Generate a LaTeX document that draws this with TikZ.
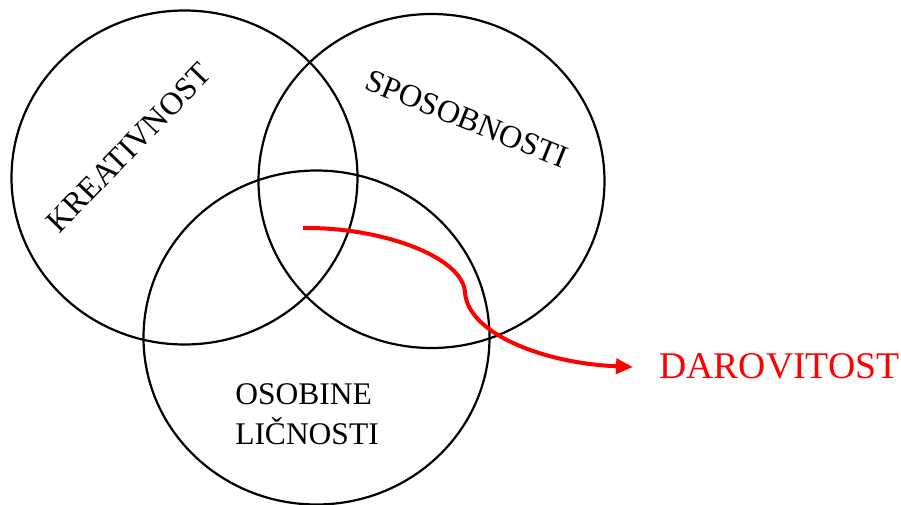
\documentclass[tikz,border=0pt]{standalone}
\usepackage{fontspec}
\setmainfont{Liberation Serif}
\usetikzlibrary{shapes.geometric,arrows.meta}
\begin{document}
\begin{tikzpicture}[x=1pt,y=-1pt,
  ring/.style={ellipse,draw=black,line width=2.2pt,minimum width=346pt,minimum height=334pt,inner sep=0pt},
  lbl/.style={font=\fontsize{32}{40}\selectfont,inner sep=0pt},
  flow/.style={draw=red,line width=4pt,-{Triangle[length=17pt,width=15pt]}}]
\useasboundingbox (0,0) rectangle (901,505);
\node[ring] (c1) at (184.5,177.5) {};
\node[ring] (c2) at (431.5,181) {};
\node[ring] (c3) at (316.5,337.5) {};
\node[lbl,rotate=46] (kr) at (129,148) {KREATIVNOST};
\node[lbl,rotate=-22] (sp) at (467,119) {SPOSOBNOSTI};
\node[lbl,align=left,font=\fontsize{31.5}{40}\selectfont] (os) at (307,414) {OSOBINE\\LIČNOSTI};
\node[inner sep=0pt,text=red,font=\fontsize{37.7}{44}\selectfont,anchor=west] (dar) at (659,366) {DAROVITOST};
\coordinate (st) at (303,228);
\coordinate (kink) at (465,292);
\coordinate (tip) at (633,367);
\draw[flow] (st) .. controls (380,227) and (462,256) .. (kink) .. controls (467,332) and (540,363) .. (tip);
\end{tikzpicture}
\end{document}
